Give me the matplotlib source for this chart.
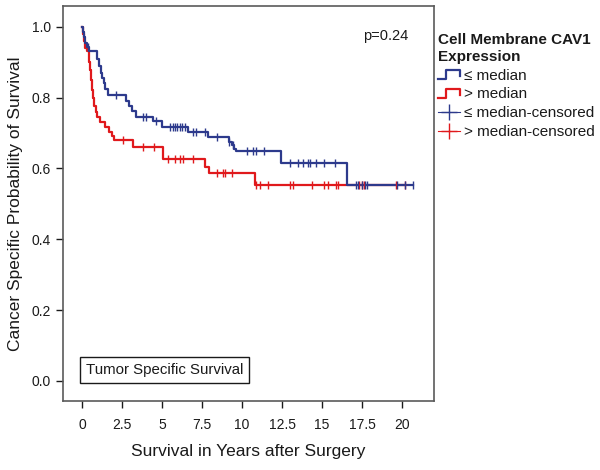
import numpy as np
import matplotlib
matplotlib.use("Agg")
import matplotlib.pyplot as plt
from matplotlib.lines import Line2D
from matplotlib.legend_handler import HandlerBase

plt.rcParams['font.family'] = ['Liberation Sans', 'DejaVu Sans']

# ---- data ----
low_times = [0, 0.05, 0.12, 0.2, 0.3, 0.4, 0.95, 1.05, 1.15, 1.25, 1.35, 1.45, 1.6,
             2.75, 2.9, 3.1, 3.35, 4.4, 5.0, 6.6, 7.85, 9.15, 9.35, 9.5, 9.65,
             12.45, 16.55, 20.7]
low_surv = [1.0, 0.985, 0.97, 0.955, 0.943, 0.93, 0.91, 0.89, 0.87, 0.855, 0.84, 0.825, 0.808,
            0.79, 0.776, 0.762, 0.746, 0.735, 0.718, 0.702, 0.688, 0.675, 0.665, 0.655, 0.648,
            0.616, 0.553, 0.553]
low_cens = [0.35, 2.1, 3.8, 4.0, 4.6, 5.5, 5.65, 5.8, 5.95, 6.1, 6.25, 6.4, 6.95, 7.1, 7.7,
            8.4, 9.2, 9.45, 10.3, 10.7, 10.85, 11.35, 13.0, 13.5, 13.8, 14.1, 14.25, 14.6,
            15.1, 15.8, 17.1, 17.25, 17.5, 17.7, 17.8, 19.7, 20.2, 20.7]

high_times = [0, 0.05, 0.12, 0.2, 0.3, 0.45, 0.5, 0.55, 0.6, 0.65, 0.72, 0.85, 0.95, 1.1,
              1.4, 1.7, 1.85, 2.0, 3.15, 5.05, 7.65, 7.9, 10.8, 20.2]
high_surv = [1.0, 0.98, 0.96, 0.94, 0.93, 0.90, 0.878, 0.85, 0.82, 0.80, 0.775, 0.76, 0.746, 0.732,
             0.718, 0.704, 0.69, 0.68, 0.661, 0.627, 0.605, 0.586, 0.553, 0.553]
high_cens = [2.55, 3.8, 4.5, 5.35, 5.8, 6.1, 6.3, 6.9, 8.4, 8.8, 8.95, 9.35, 10.9, 11.1, 11.6,
             13.0, 13.2, 14.4, 15.1, 15.4, 15.9, 16.0, 17.3, 17.5, 17.6, 19.6, 20.2]

xticks = [0, 2.5, 5, 7.5, 10, 12.5, 15, 17.5, 20]
xticklabels = ["0", "2.5", "5", "7.5", "10", "12.5", "15", "17.5", "20"]
yticks = [0.0, 0.2, 0.4, 0.6, 0.8, 1.0]

BLUE = '#2d3a8c'
RED = '#e0191c'
FRAME = '#5a5a5a'
TEXT = '#1a1a1a'


def surv_at(times, surv, t):
    idx = np.searchsorted(np.asarray(times), np.asarray(t), side='right') - 1
    return np.asarray(surv)[idx]


fig = plt.figure(figsize=(6.0, 4.7), dpi=100)
ax = fig.add_axes([0.105, 0.1474, 0.6183, 0.8396])

ax.step(low_times, low_surv, where='post', color=BLUE, lw=1.6, zorder=3)
ax.step(high_times, high_surv, where='post', color=RED, lw=1.6, zorder=2)
ax.plot(low_cens, surv_at(low_times, low_surv, low_cens), ls='none', marker='|',
        ms=6, mew=1.0, color=BLUE, zorder=4)
ax.plot(high_cens, surv_at(high_times, high_surv, high_cens), ls='none', marker='|',
        ms=6, mew=1.0, color=RED, zorder=3)

ax.set_xlim(-1.2, 22.0)
ax.set_ylim(-0.056, 1.058)
ax.set_xticks(xticks)
ax.set_xticklabels(xticklabels)
ax.set_yticks(yticks)
ax.set_yticklabels([f"{v:.1f}" for v in yticks])
ax.tick_params(axis='both', colors=TEXT, labelsize=10, length=5, width=1.0)
ax.tick_params(axis='x', pad=7.5)
ax.tick_params(axis='y', pad=3.5)
for t in ax.get_xticklines() + ax.get_yticklines():
    t.set_color(FRAME)
for s in ax.spines.values():
    s.set_color(FRAME)
    s.set_linewidth(1.2)

ax.set_xlabel("Survival in Years after Surgery", fontsize=12.5, labelpad=8.5, color=TEXT)
ax.set_ylabel("Cancer Specific Probability of Survival", fontsize=12.5, labelpad=6.5, color=TEXT)

ax.text(0.93, 0.924, "p=0.24", transform=ax.transAxes, ha='right', va='center',
        fontsize=10.5, color=TEXT)
ax.text(0.062, 0.078, "Tumor Specific Survival", transform=ax.transAxes, ha='left',
        va='center', fontsize=10.8, color=TEXT,
        bbox=dict(boxstyle='square,pad=0.4', fc='white', ec=TEXT, lw=1.0))


class StepHandler(HandlerBase):
    def create_artists(self, legend, orig_handle, xdescent, ydescent, width,
                       height, fontsize, trans):
        x0 = -xdescent
        y0 = -ydescent
        xs = [x0, x0 + 0.35 * width, x0 + 0.35 * width, x0 + width, x0 + width]
        ys = [y0 + 0.05 * height, y0 + 0.05 * height, y0 + 0.9 * height,
              y0 + 0.9 * height, y0 + 0.3 * height]
        ln = Line2D(xs, ys, color=orig_handle.get_color(), lw=1.6, transform=trans)
        return [ln]


h_low = Line2D([], [], color=BLUE)
h_high = Line2D([], [], color=RED)
h_low_c = Line2D([], [], color=BLUE, marker='+', ms=11, mew=1.0, lw=0.8)
h_high_c = Line2D([], [], color=RED, marker='+', ms=11, mew=1.0, lw=0.8)
leg = fig.legend([h_low, h_high, h_low_c, h_high_c],
                 ["≤ median", "> median", "≤ median-censored", "> median-censored"],
                 loc='upper left', bbox_to_anchor=(0.7255, 0.937),
                 title="Cell Membrane CAV1\nExpression", alignment='left',
                 title_fontproperties={'weight': 'bold', 'size': 11},
                 fontsize=11, frameon=False, handlelength=1.4, handletextpad=0.3,
                 labelspacing=0.31, borderaxespad=0, borderpad=0.2,
                 handler_map={h_low: StepHandler(), h_high: StepHandler()})
leg.get_title().set_color(TEXT)
leg.get_title().set_linespacing(1.3)
for txt in leg.get_texts():
    txt.set_color(TEXT)

fig.savefig("out.png", dpi=100)
